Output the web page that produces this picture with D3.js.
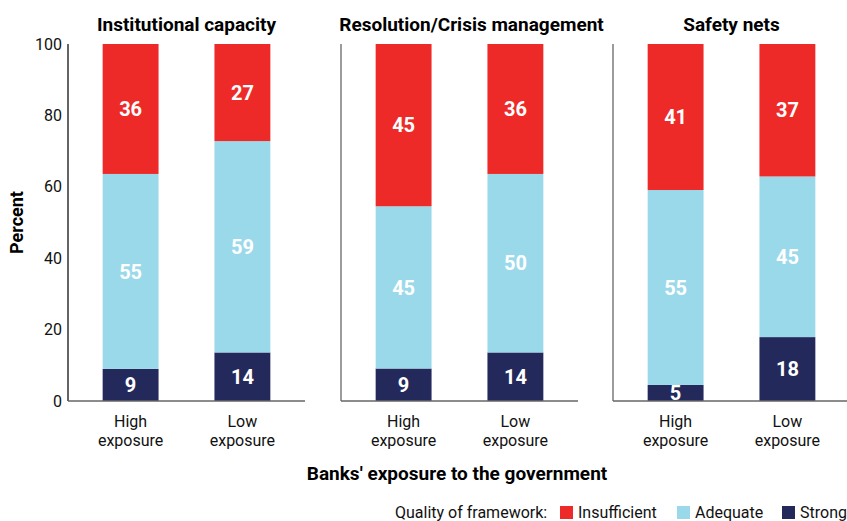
<!DOCTYPE html>
<html><head><meta charset="utf-8">
<script src="https://cdn.jsdelivr.net/npm/d3@7"></script>
<style>
body{margin:0;background:#fff;}
svg{display:block;}
text{font-family:Roboto,"Liberation Sans",sans-serif;}
</style></head>
<body>
<svg id="chart" width="847" height="521"></svg>
<script>
const panels = ["Institutional capacity", "Resolution/Crisis management", "Safety nets"];
const categories = ["High exposure", "Low exposure"];
const seriesNames = ["Strong", "Adequate", "Insufficient"];
// values per panel, per category
const strong = [[9.0, 13.6], [9.1, 13.6], [4.5, 17.9]];
const adequate = [[54.6, 59.2], [45.45, 50.0], [54.6, 45.0]];
const insufficient = [[36.4, 27.2], [45.45, 36.4], [40.9, 37.1]];
const yTicks = [0, 20, 40, 60, 80, 100];
const legendTitle = "Quality of framework:";
const legendOrder = ["Insufficient", "Adequate", "Strong"];
const xTitle = "Banks' exposure to the government";
const yTitle = "Percent";

(function(){
const colors = {Strong: "#24295C", Adequate: "#9AD9EA", Insufficient: "#EE2A28"};
const svg = d3.select("#chart");
const plotTop = 44, plotBottom = 401;
const panelX = [68, 341, 613];
const panelW = 237;
const titleDx = [0, 12, 0];

const y = d3.scaleLinear().domain([0, 100]).range([plotBottom, plotTop]);
const x = d3.scaleBand().domain(categories).range([0, panelW]).paddingInner(0.5).paddingOuter(0.31);

const yAxis = svg.append("g").attr("transform", `translate(${panelX[0]},0)`)
  .call(d3.axisLeft(y).tickValues(yTicks).tickSize(0).tickPadding(6));
yAxis.select(".domain").remove();
yAxis.selectAll("text").attr("font-size", 16).attr("fill", "#111")
  .style("font-family", 'Roboto,sans-serif');

svg.append("text").attr("transform", `translate(23,${(plotTop + plotBottom) / 2}) rotate(-90)`)
  .attr("text-anchor", "middle").attr("font-size", 18).attr("font-weight", "bold").attr("fill", "#000").text(yTitle);

panels.forEach((p, i) => {
  const g = svg.append("g").attr("transform", `translate(${panelX[i]},0)`);
  const data = categories.map((c, j) => ({cat: c, Strong: strong[i][j], Adequate: adequate[i][j], Insufficient: insufficient[i][j]}));
  const stack = d3.stack().keys(seriesNames)(data);
  stack.forEach(layer => {
    g.selectAll(null).data(layer).enter().append("rect")
      .attr("x", d => x(d.data.cat)).attr("width", x.bandwidth())
      .attr("y", d => y(d[1])).attr("height", d => y(d[0]) - y(d[1]))
      .attr("fill", colors[layer.key]);
    g.selectAll(null).data(layer).enter().append("text")
      .attr("x", d => x(d.data.cat) + x.bandwidth() / 2)
      .attr("y", d => y((d[0] + d[1]) / 2))
      .attr("dy", "0.36em").attr("text-anchor", "middle")
      .attr("font-size", 20).attr("font-weight", "bold").attr("fill", "#fff")
      .text(d => Math.round(d[1] - d[0]));
  });
  g.append("line").attr("x1", 0).attr("x2", 0).attr("y1", plotTop).attr("y2", plotBottom)
    .attr("stroke", i === 0 ? "#111" : "#666").attr("stroke-width", 1.3);
  g.append("line").attr("x1", 0).attr("x2", panelW).attr("y1", plotBottom).attr("y2", plotBottom)
    .attr("stroke", "#666").attr("stroke-width", 1.5);
  g.append("text").attr("x", panelW / 2 + titleDx[i]).attr("y", 31).attr("text-anchor", "middle")
    .attr("font-size", 19).attr("font-weight", "bold").attr("fill", "#000").text(p);
  categories.forEach(c => {
    const words = c.split(" ");
    const cx = x(c) + x.bandwidth() / 2;
    const t = g.append("text").attr("x", cx).attr("y", 427)
      .attr("text-anchor", "middle").attr("font-size", 16).attr("fill", "#111");
    words.forEach((w, k) => t.append("tspan").attr("x", cx).attr("dy", k ? 19 : 0).text(w));
  });
});

svg.append("text").attr("x", 457).attr("y", 480).attr("text-anchor", "middle")
  .attr("font-size", 19).attr("font-weight", "bold").attr("fill", "#000").text(xTitle);

const lg = svg.append("g").attr("transform", "translate(395,518)");
lg.append("text").attr("x", 0).attr("y", 0).attr("font-size", 16).attr("fill", "#111").text(legendTitle);
const legX = [165, 282, 387];
legendOrder.forEach((k, i) => {
  lg.append("rect").attr("x", legX[i]).attr("y", -12).attr("width", 13).attr("height", 13).attr("fill", colors[k]);
  lg.append("text").attr("x", legX[i] + 18).attr("y", 0).attr("font-size", 16).attr("fill", "#111").text(k);
});
})();
</script>
</body></html>
